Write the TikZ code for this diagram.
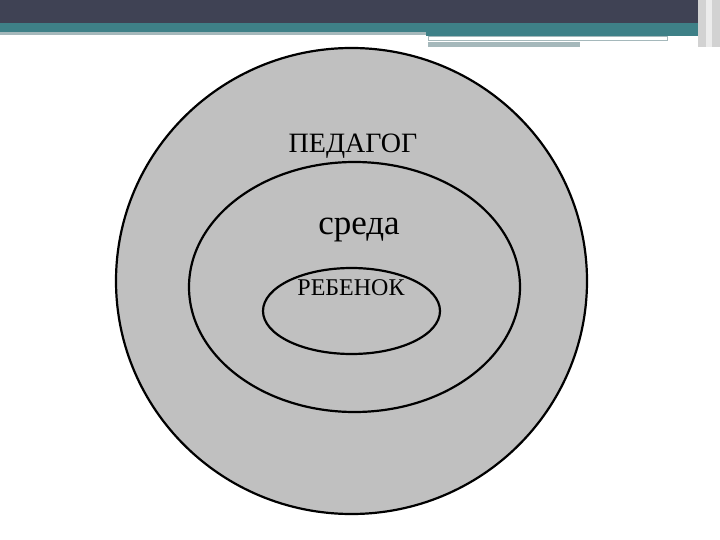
\documentclass[tikz,border=0pt]{standalone}
\usepackage{fontspec}
\setmainfont{Liberation Serif}
\usepackage{tikz}

\definecolor{bardark}{HTML}{3F4254}
\definecolor{barteal}{HTML}{3E8087}
\definecolor{barlight}{HTML}{A5B8BB}
\definecolor{ringgray}{HTML}{C0C0C0}

\begin{document}
\begin{tikzpicture}[x=1pt,y=-1pt,
    ring/.style={fill=ringgray,draw=black,line width=2.2pt},
    label/.style={anchor=base,inner sep=0pt}]
            \useasboundingbox (0,0) rectangle (720,540);

            % title bar
            \fill[bardark] (0,0) rectangle (720,23);
            \fill[barteal] (0,23) rectangle (720,32);
            \fill[barlight] (0,32) rectangle (426,35);
            \fill[barteal] (426,32) rectangle (720,36);
            \filldraw[fill=white,draw=barlight] (428,36.5) rectangle (667,40);
            \fill[barlight] (428,42) rectangle (580,47);
            \fill[gray!35] (698,0) rectangle (720,47);
            \fill[white!85!gray] (706,0) rectangle (712,47);

            \coordinate (outerc) at (351.5,281);
            \coordinate (middlec) at (354.5,287);
            \coordinate (innerc) at (351.5,311);

            \draw[ring] (outerc) ellipse [x radius=235.5,y radius=233];
            \draw[ring] (middlec) ellipse [x radius=165.5,y radius=125];
            \draw[ring] (innerc) ellipse [x radius=88.5,y radius=43];

            \node[label,font=\fontsize{28}{28}\selectfont] (teacher) at (353,153) {ПЕДАГОГ};
            \node[label,font=\fontsize{35}{35}\selectfont] (milieu) at (359,235) {среда};
            \node[label,font=\fontsize{24}{24}\selectfont] (child) at (351,295) {РЕБЕНОК};
            
        \end{tikzpicture}
\end{document}
